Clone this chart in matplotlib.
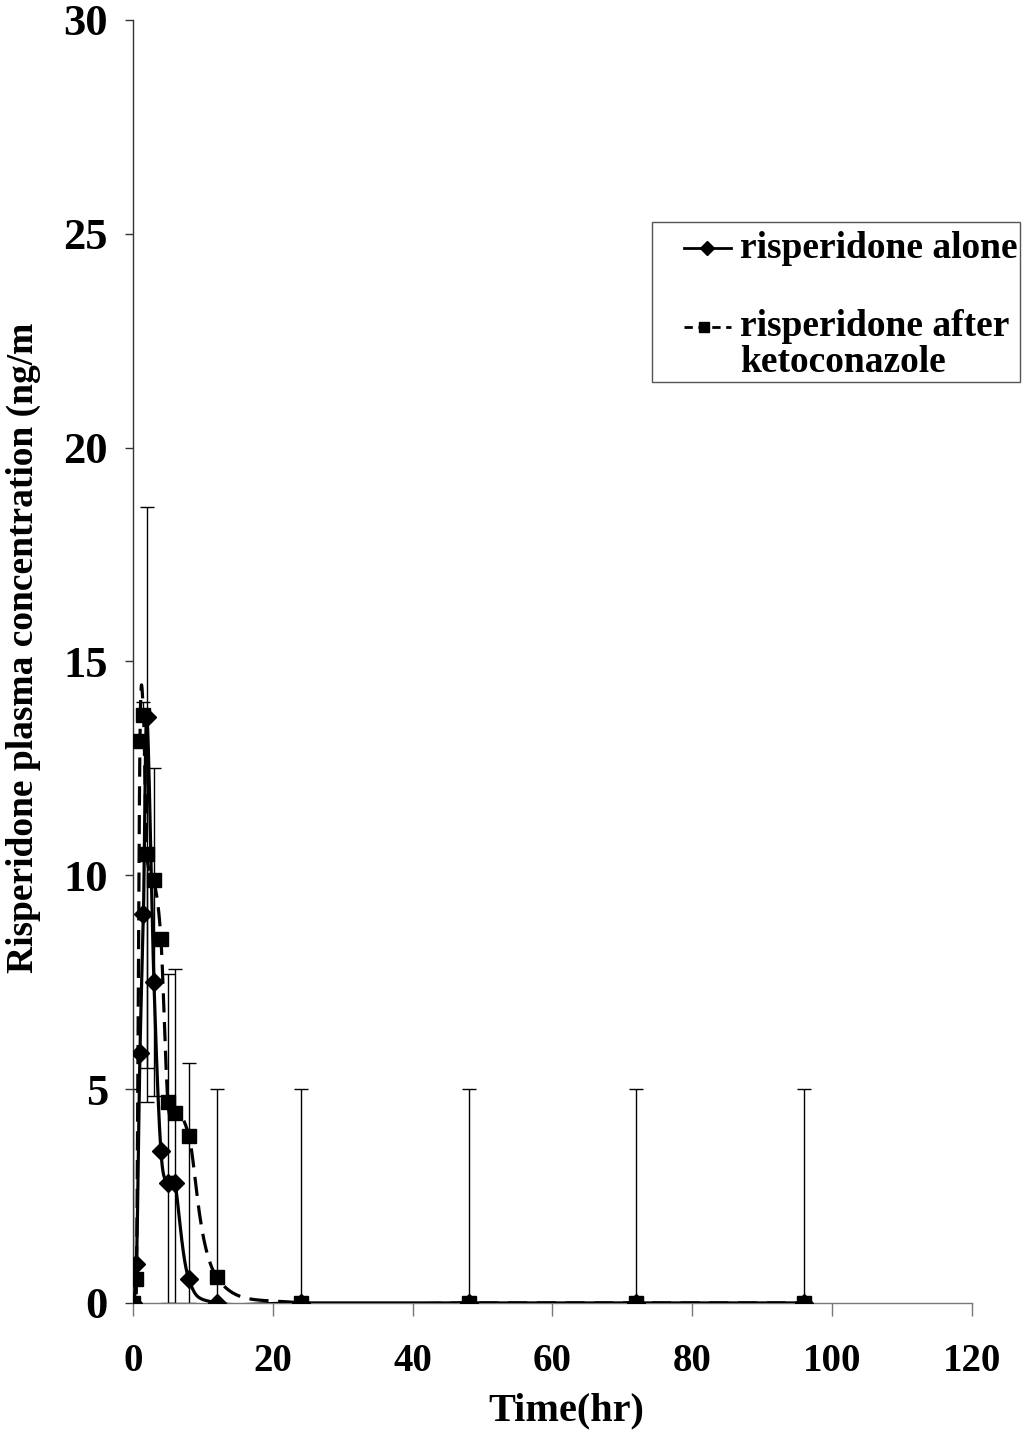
import numpy as np
import matplotlib.pyplot as plt
from matplotlib.lines import Line2D
from matplotlib.patches import Rectangle

# ---------------- DATA ----------------
time_hr = [0, 0.5, 1, 1.5, 2, 3, 4, 5, 6, 8, 12, 24, 48, 72, 96]

alone = [0, 0.9, 5.85, 9.1, 13.7, 7.5, 3.55, 2.8, 2.8, 0.55, 0, 0, 0, 0, 0]
alone_err_lo = [0, 0, 0, 0, 9.0, 0, 0, 2.8, 2.8, 0.55, 0, 0, 0, 0, 0]
alone_err_hi = [5.0, 0, 0, 0, 4.9, 0, 0, 4.9, 5.0, 5.05, 5.0, 5.0, 5.0, 5.0, 5.0]

keto = [0, 0.55, 13.15, 13.75, 10.5, 9.9, 8.5, 4.7, 4.45, 3.9, 0.6, 0, 0, 0, 0]
keto_err_lo = [0, 0, 0, 0, 5.0, 5.05, 0, 0, 0, 0, 0, 0, 0, 0, 0]
keto_err_hi = [0, 0, 0, 0.3, 0, 2.6, 0, 0, 0, 0, 0, 0, 0, 0, 0]

x_ticks = [0, 20, 40, 60, 80, 100, 120]
y_ticks = [0, 5, 10, 15, 20, 25, 30]

legend_labels = ["risperidone alone", "risperidone after", "ketoconazole"]
# --------------------------------------

SERIF = ['Liberation Serif', 'DejaVu Serif']
W, H = 1026, 1434

fig = plt.figure(figsize=(W / 100, H / 100), dpi=100)
ax = fig.add_axes([0.1296, 0.0914, 0.8177, 0.8947])
ax.set_xlim(0, 120)
ax.set_ylim(0, 30)


def smooth_curve(ax, xs, ys, n=40):
    # bezier smoothing done in screen space, like a spreadsheet "smoothed line"
    pts = ax.transData.transform(np.column_stack([xs, ys]))
    p = np.vstack([pts[0], pts, pts[-1]])
    t = np.linspace(0, 1, n)[:, None]
    segs = []
    for i in range(1, len(p) - 2):
        p0, p1, p2, p3 = p[i - 1], p[i], p[i + 1], p[i + 2]
        c1 = p1 + (p2 - p0) / 6
        c2 = p2 - (p3 - p1) / 6
        segs.append((1 - t) ** 3 * p1 + 3 * (1 - t) ** 2 * t * c1
                    + 3 * (1 - t) * t ** 2 * c2 + t ** 3 * p2)
    curve = ax.transData.inverted().transform(np.vstack(segs))
    return curve[:, 0], curve[:, 1]


# error bars
ax.errorbar(time_hr, alone, yerr=[alone_err_lo, alone_err_hi], fmt='none',
            ecolor='black', elinewidth=1, capsize=5, capthick=1, zorder=2)
ax.errorbar(time_hr, keto, yerr=[keto_err_lo, keto_err_hi], fmt='none',
            ecolor='black', elinewidth=1, capsize=5, capthick=1, zorder=2)

# smoothed curves
sx, sy = smooth_curve(ax, time_hr, alone)
ax.plot(sx, sy, color='black', lw=2.3, zorder=3)
kx, ky = smooth_curve(ax, time_hr, keto)
ax.plot(kx, ky, color='black', lw=2.3, linestyle=(0, (6, 3)), zorder=3)

# markers
ax.plot(time_hr, alone, linestyle='none', marker='D', ms=9, color='black', zorder=4)
ax.plot(time_hr, keto, linestyle='none', marker='s', ms=9.5, color='black', zorder=4)

# axes styling
for side in ['top', 'right']:
    ax.spines[side].set_visible(False)
ax.spines['left'].set_color('#333333')
ax.spines['bottom'].set_color('#777777')
ax.spines['left'].set_linewidth(1)
ax.spines['bottom'].set_linewidth(1)

ax.set_xticks(x_ticks)
ax.set_yticks(y_ticks)
ax.tick_params(axis='y', direction='out', length=6, width=1, pad=12, colors='#333333',
               labelcolor='black')
ax.tick_params(axis='x', direction='out', length=9, width=1, pad=20, colors='#777777',
               labelcolor='black')
for lbl in ax.get_yticklabels():
    lbl.set_fontfamily(SERIF)
    lbl.set_fontweight('bold')
    lbl.set_fontsize(32)
for lbl in ax.get_xticklabels():
    lbl.set_fontfamily(SERIF)
    lbl.set_fontweight('bold')
    lbl.set_fontsize(28)

ax.set_xlabel("Time(hr)", family=SERIF, fontweight='bold', fontsize=29, va='center')
ax.xaxis.set_label_coords(0.517, -0.084)
ax.set_ylabel("Risperidone plasma concentration (ng/m", family=SERIF,
              fontweight='bold', fontsize=27, va='center')
ax.yaxis.set_label_coords(-0.13, 0.511)

# legend, laid out by hand in figure pixels
def fx(px):
    return px / W


def fy(py):
    return 1 - py / H


fig.patches.append(Rectangle((fx(652), fy(382)), (1020 - 652) / W, (382 - 222) / H,
                             transform=fig.transFigure, fill=False,
                             edgecolor='#555555', linewidth=1))
fig.lines.append(Line2D([fx(684), fx(731)], [fy(248), fy(248)], transform=fig.transFigure,
                        color='black', lw=2))
fig.lines.append(Line2D([fx(707)], [fy(248)], transform=fig.transFigure,
                        color='black', marker='D', ms=7))
fig.lines.append(Line2D([fx(684), fx(731)], [fy(327), fy(327)], transform=fig.transFigure,
                        color='black', lw=2, linestyle=(0, (3, 2))))
fig.lines.append(Line2D([fx(704)], [fy(327)], transform=fig.transFigure,
                        color='black', marker='s', ms=7))
legend_font = dict(family=SERIF, fontweight='bold', fontsize=27, va='center', ha='left')
fig.text(fx(740), fy(248), legend_labels[0], **legend_font)
fig.text(fx(740), fy(327), legend_labels[1], **legend_font)
fig.text(fx(740), fy(362), legend_labels[2], **legend_font)

fig.savefig("out.png", dpi=100)
